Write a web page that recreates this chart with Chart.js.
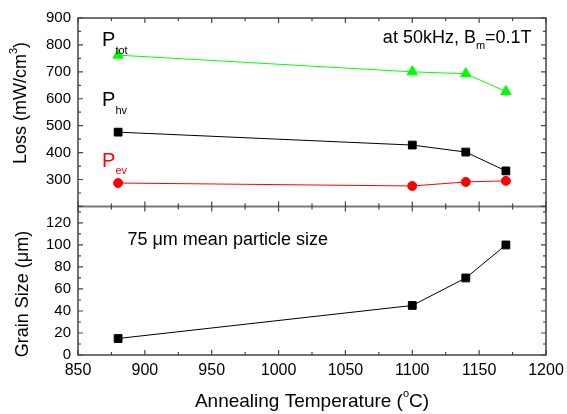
<!DOCTYPE html>
<html>
<head>
<meta charset="utf-8">
<script src="https://cdn.jsdelivr.net/npm/chart.js@4"></script>
<style>
  html, body { margin: 0; padding: 0; background: #fff; }
</style>
</head>
<body>
<canvas id="chart" width="567" height="414"></canvas>
<script>
// annealing temperatures (°C)
const temps = [880, 1100, 1140, 1170];
// losses at 50kHz, Bm = 0.1T (mW/cm3)
const lossTot = [762, 700, 693, 627];
const lossHv = [476, 428, 402, 332];
const lossEv = [287, 276, 291, 295];
// grain size (um)
const grainSize = [15, 45, 70, 100];

// tick values
const xTicks = [850, 900, 950, 1000, 1050, 1100, 1150, 1200];
const lossTicks = [300, 400, 500, 600, 700, 800, 900];
const grainTicks = [0, 20, 40, 60, 80, 100, 120];

const FONT = 'Liberation Sans, Arial, Helvetica, sans-serif';

function pts(ys) {
    return temps.map((t, i) => ({ x: t, y: ys[i] }));
}

function setTicks(values) {
    return scale => { scale.ticks = values.map(v => ({ value: v })); };
}

// draws text made of parts (normal / sub / sup), left aligned at x
function richWidth(ctx, parts) {
    let w = 0;
    parts.forEach(p => {
        ctx.font = p.size + 'px ' + FONT;
        w += ctx.measureText(p.t).width;
    });
    return w;
}
function drawRich(ctx, parts, x, y, color) {
    let cx = x;
    ctx.fillStyle = color || '#000';
    ctx.textBaseline = 'alphabetic';
    ctx.textAlign = 'left';
    parts.forEach(p => {
        ctx.font = p.size + 'px ' + FONT;
        ctx.fillText(p.t, cx, y + (p.dy || 0));
        cx += ctx.measureText(p.t).width;
    });
}

const framePlugin = {
    id: 'frame',
    afterDraw(chart) {
        const ctx = chart.ctx;
        const x = chart.scales.x, yl = chart.scales.yLoss, yg = chart.scales.yGrain;
        const L = x.left, R = x.right;
        const T = yl.top, S = yl.bottom, B = yg.bottom;
        ctx.save();

        // separator
        ctx.strokeStyle = '#777';
        ctx.lineWidth = 2;
        ctx.beginPath();
        ctx.moveTo(L, S); ctx.lineTo(R, S);
        ctx.stroke();

        ctx.strokeStyle = '#444';
        ctx.lineWidth = 1.5;
        ctx.strokeRect(L, T, R - L, B - T);

        ctx.lineWidth = 1.2;
        ctx.beginPath();
        function seg(x1, y1, x2, y2) { ctx.moveTo(x1, y1); ctx.lineTo(x2, y2); }
        for (let v = 850; v <= 1200; v += 25) {
            const len = v % 50 === 0 ? 5 : 3;
            const px = x.getPixelForValue(v);
            seg(px, T, px, T + len);
            seg(px, S - len, px, S + len);
            seg(px, B, px, B - len);
        }
        for (let v = 200; v <= 900; v += 50) {
            const len = v % 100 === 0 ? 5 : 3;
            const py = yl.getPixelForValue(v);
            seg(L, py, L + len, py);
            seg(R, py, R - len, py);
        }
        for (let v = 0; v <= 135; v += 10) {
            const len = v % 20 === 0 ? 5 : 3;
            const py = yg.getPixelForValue(v);
            seg(L, py, L + len, py);
            seg(R, py, R - len, py);
        }
        ctx.stroke();

        // labels inside the plots
        const px = v => x.getPixelForValue(v);
        drawRich(ctx, [{ t: 'P', size: 20 }, { t: 'tot', size: 11, dy: 8 }], px(868), yl.getPixelForValue(796));
        drawRich(ctx, [{ t: 'P', size: 20 }, { t: 'hv', size: 11, dy: 8 }], px(868), yl.getPixelForValue(572));
        drawRich(ctx, [{ t: 'P', size: 20 }, { t: 'ev', size: 11, dy: 7 }], px(868), yl.getPixelForValue(345), '#ff0000');
        drawRich(ctx, [{ t: 'at 50kHz, B', size: 18 }, { t: 'm', size: 11, dy: 6 }, { t: '=0.1T', size: 18 }],
            px(1078), yl.getPixelForValue(807));
        drawRich(ctx, [{ t: '75 \u03bcm mean particle size', size: 18 }], px(887), yg.getPixelForValue(100));

        // x title
        const xt = [{ t: 'Annealing Temperature (', size: 19 }, { t: 'o', size: 11, dy: -10 }, { t: 'C)', size: 19 }];
        const xw = richWidth(ctx, xt);
        drawRich(ctx, xt, (L + R) / 2 - xw / 2, 407);

        // y titles (rotated)
        function vTitle(parts, cx, cy) {
            const w = richWidth(ctx, parts);
            ctx.save();
            ctx.translate(cx, cy);
            ctx.rotate(-Math.PI / 2);
            drawRich(ctx, parts, -w / 2, 0);
            ctx.restore();
        }
        vTitle([{ t: 'Loss (mW/cm', size: 18 }, { t: '3', size: 11, dy: -9 }, { t: ')', size: 18 }], 26, yl.top + 85);
        vTitle([{ t: 'Grain Size (\u03bcm)', size: 18 }], 28, yg.bottom - 61);

        ctx.restore();
    }
};

const tickOpts = size => ({
    color: '#000', font: { family: FONT, size: size }, autoSkip: false,
    callback: v => String(v)
});

new Chart(document.getElementById('chart'), {
    type: 'scatter',
    data: {
        datasets: [
            {
                label: 'Ptot', data: pts(lossTot), yAxisID: 'yLoss', showLine: true,
                borderColor: '#00ff00', backgroundColor: '#00ff00', borderWidth: 1,
                pointStyle: 'triangle', pointRadius: 6
            },
            {
                label: 'Phv', data: pts(lossHv), yAxisID: 'yLoss', showLine: true,
                borderColor: '#000', backgroundColor: '#000', borderWidth: 1,
                pointStyle: 'rect', pointRadius: 5.5
            },
            {
                label: 'Pev', data: pts(lossEv), yAxisID: 'yLoss', showLine: true,
                borderColor: '#ff0000', backgroundColor: '#ff0000', borderWidth: 1,
                pointStyle: 'circle', pointRadius: 4.5
            },
            {
                label: 'Grain', data: pts(grainSize), yAxisID: 'yGrain', showLine: true,
                borderColor: '#000', backgroundColor: '#000', borderWidth: 1,
                pointStyle: 'rect', pointRadius: 5.5
            }
        ]
    },
    options: {
        responsive: false,
        devicePixelRatio: 1,
        animation: false,
        layout: { padding: { top: 18, right: 21, left: 0, bottom: 0 } },
        plugins: { legend: { display: false }, tooltip: { enabled: false } },
        scales: {
            x: {
                type: 'linear', min: 850, max: 1200,
                afterBuildTicks: setTicks(xTicks),
                afterFit: s => { s.height = 59; s.paddingLeft = 0; s.paddingRight = 0; },
                grid: { display: false, drawTicks: false },
                border: { display: false },
                ticks: Object.assign(tickOpts(16), { padding: 6, maxRotation: 0 })
            },
            yGrain: {
                type: 'linear', position: 'left', stack: 'panels', stackWeight: 149,
                min: 0, max: 135,
                afterBuildTicks: setTicks(grainTicks),
                afterFit: s => { s.width = 78; s.paddingTop = 0; s.paddingBottom = 0; },
                grid: { display: false, drawTicks: false },
                border: { display: false },
                ticks: Object.assign(tickOpts(15), { padding: 7 })
            },
            yLoss: {
                type: 'linear', position: 'left', stack: 'panels', stackWeight: 189,
                min: 200, max: 900,
                afterBuildTicks: setTicks(lossTicks),
                afterFit: s => { s.width = 78; s.paddingTop = 0; s.paddingBottom = 0; },
                grid: { display: false, drawTicks: false },
                border: { display: false },
                ticks: Object.assign(tickOpts(15), { padding: 7 })
            }
        }
    },
    plugins: [framePlugin]
});
</script>
</body>
</html>
